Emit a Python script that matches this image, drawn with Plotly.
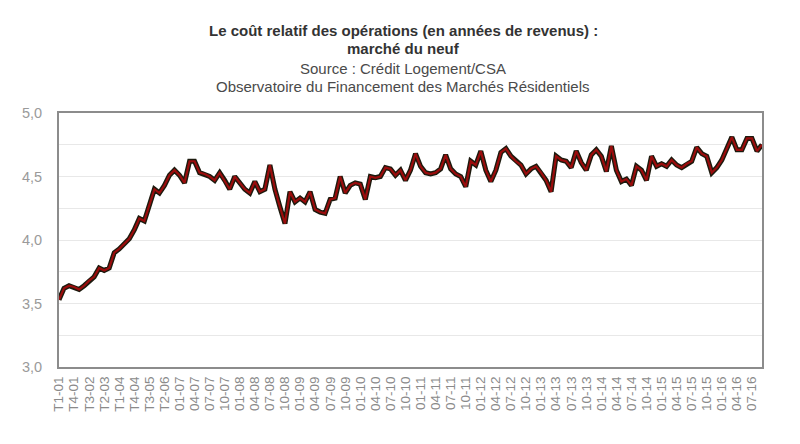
import plotly.graph_objects as go

quarters = [f"T{q}-{y:02d}" for y in range(1, 7) for q in range(1, 5)]
months = [f"{m:02d}-{y:02d}" for y in range(7, 17) for m in range(1, 13)]
months = months[:months.index("09-16") + 1]
categories = quarters + months

values = [
    3.53, 3.62, 3.64, 3.63, 3.61, 3.64, 3.68, 3.71, 3.78, 3.76,
    3.78, 3.90, 3.93, 3.97, 4.01, 4.08, 4.17, 4.15, 4.27, 4.40,
    4.37, 4.43, 4.51, 4.55, 4.51, 4.45, 4.62, 4.62, 4.53, 4.52,
    4.50, 4.47, 4.53, 4.47, 4.40, 4.50, 4.45, 4.40, 4.37, 4.46,
    4.38, 4.40, 4.59, 4.40, 4.26, 4.13, 4.38, 4.30, 4.33, 4.30,
    4.38, 4.24, 4.22, 4.21, 4.32, 4.33, 4.50, 4.37, 4.43, 4.45,
    4.44, 4.32, 4.50, 4.49, 4.50, 4.57, 4.56, 4.51, 4.55, 4.47,
    4.55, 4.68, 4.58, 4.53, 4.52, 4.53, 4.56, 4.67, 4.56, 4.52,
    4.50, 4.42, 4.62, 4.59, 4.70, 4.55, 4.46, 4.55, 4.69, 4.72,
    4.66, 4.62, 4.59, 4.52, 4.56, 4.58, 4.53, 4.47, 4.38, 4.66,
    4.63, 4.62, 4.57, 4.70, 4.61, 4.55, 4.67, 4.71, 4.66, 4.54,
    4.74, 4.55, 4.46, 4.48, 4.43, 4.58, 4.55, 4.47, 4.66, 4.58,
    4.60, 4.58, 4.63, 4.59, 4.57, 4.60, 4.62, 4.73, 4.68, 4.66,
    4.53, 4.57, 4.63, 4.72, 4.81, 4.71, 4.71, 4.80, 4.80, 4.70,
    4.75,
]

tick_labels = categories[::3]
y_ticks = [3.0, 3.25, 3.5, 3.75, 4.0, 4.25, 4.5, 4.75, 5.0]
y_text = ["3,0", "", "3,5", "", "4,0", "", "4,5", "", "5,0"]

title_lines = [
    "Le coût relatif des opérations (en années de revenus) :",
    "marché du neuf",
]
sub_lines = [
    "Source : Crédit Logement/CSA",
    "Observatoire du Financement des Marchés Résidentiels",
]

fig = go.Figure()
fig.add_trace(go.Scatter(x=categories, y=values, mode="lines",
                         line=dict(color="#1c1a0e", width=5), hoverinfo="skip"))
fig.add_trace(go.Scatter(x=categories, y=values, mode="lines",
                         line=dict(color="#9a0c0c", width=2.2)))

font = "Liberation Sans, Arial, sans-serif"
anns = []
for t, yy in zip(title_lines, [30.5, 48.5]):
    anns.append(dict(text=f"<b>{t}</b>", x=0.49, xref="paper", y=yy, yref="paper",
                     yanchor="middle", showarrow=False,
                     font=dict(family=font, size=15, color="#333")))
for t, yy in zip(sub_lines, [68, 87]):
    anns.append(dict(text=t, x=0.49, xref="paper", y=yy, yref="paper",
                     yanchor="middle", showarrow=False,
                     font=dict(family=font, size=15, color="#4a4a4a")))
# convert pixel y positions to paper coordinates
top, bottom, H = 113, 77, 444
ph = H - top - bottom
for a in anns:
    a["y"] = 1 + (top - a["y"]) / ph

fig.update_layout(
    width=800, height=444,
    margin=dict(l=59, r=38, t=top, b=bottom),
    paper_bgcolor="white", plot_bgcolor="white",
    showlegend=False,
    annotations=anns,
    font=dict(family=font),
)
fig.update_xaxes(
    type="category", range=[0, len(categories) - 1],
    tickvals=tick_labels, ticktext=tick_labels, tickangle=-90,
    tickfont=dict(size=13.5, color="#8a8a8a"),
    showgrid=False, showline=True, linecolor="#8c8c8c", linewidth=2,
    mirror=True, ticks="", ticklabelstandoff=2,
)
fig.update_yaxes(
    range=[3.0, 5.0], tickvals=y_ticks, ticktext=y_text,
    tickfont=dict(size=14.5, color="#9a9a9a"),
    showgrid=True, gridcolor="#e8e8e8", gridwidth=1,
    showline=True, linecolor="#8c8c8c", linewidth=2, mirror=True,
    zeroline=False, ticks="", ticklabelstandoff=12,
)

fig.write_html("out.html")
